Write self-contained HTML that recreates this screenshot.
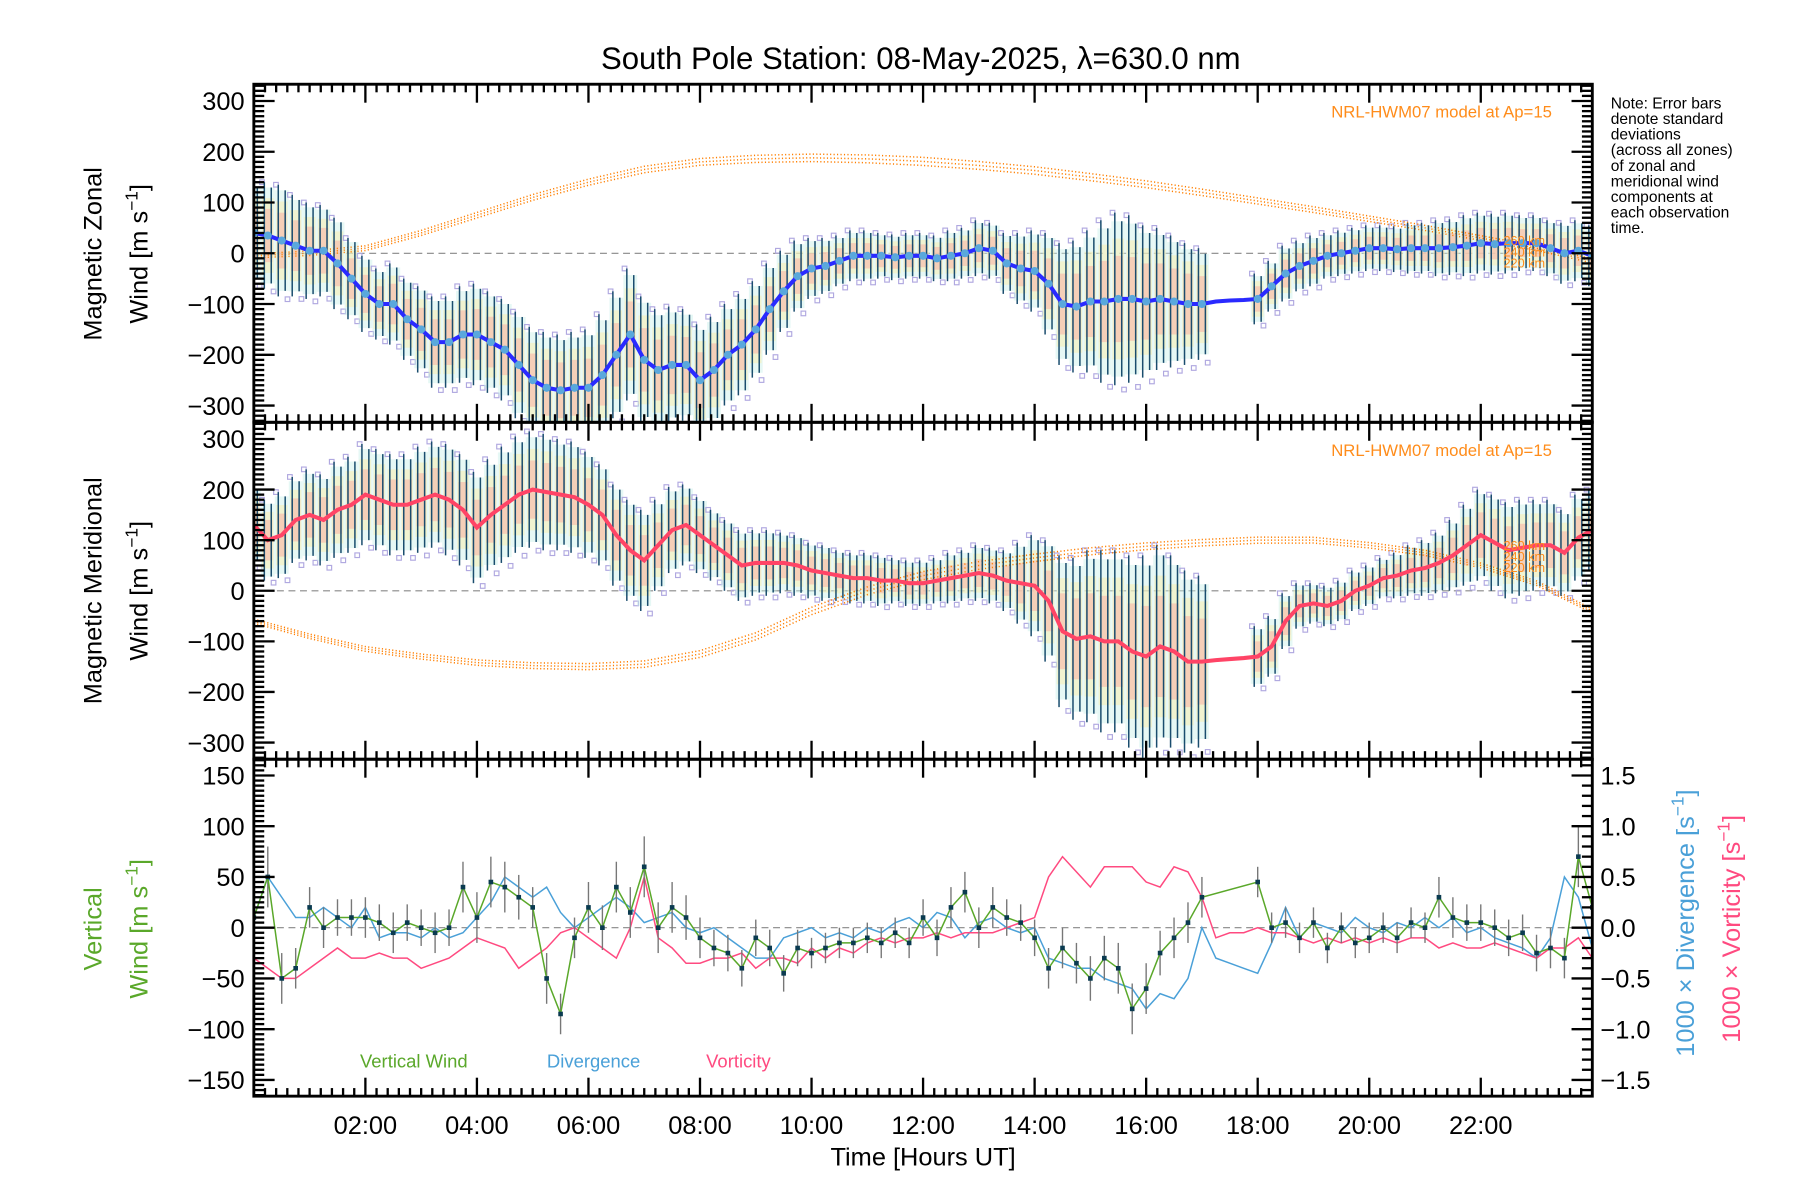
<!DOCTYPE html>
<html><head><meta charset="utf-8"><style>
html,body{margin:0;padding:0;background:#fff}
svg{display:block}
text{font-family:"Liberation Sans",sans-serif}
</style></head><body>
<svg id="chart" width="1800" height="1200" viewBox="0 0 1560 1040" xmlns="http://www.w3.org/2000/svg">
<text x="798" y="60" font-size="27" text-anchor="middle">South Pole Station: 08-May-2025, λ=630.0 nm</text>
<g font-size="13.5">
<text x="1396" y="94">Note: Error bars</text>
<text x="1396" y="107.5">denote standard</text>
<text x="1396" y="121">deviations</text>
<text x="1396" y="134.5">(across all zones)</text>
<text x="1396" y="148">of zonal and</text>
<text x="1396" y="161.5">meridional wind</text>
<text x="1396" y="175">components at</text>
<text x="1396" y="188.5">each observation</text>
<text x="1396" y="202">time.</text>
</g>
<g id="layer"></g>
</svg>
<script>
// ---- data (0.25 h steps, 0..24 h) ----
const hours = [2,4,6,8,10,12,14,16,18,20,22];
const hourLabels = ["02:00","04:00","06:00","08:00","10:00","12:00","14:00","16:00","18:00","20:00","22:00"];
const zonalMean = [40,35,25,15,5,5,-20,-50,-80,-100,-100,-130,-150,-175,-175,-160,-160,-175,-190,-220,-250,-265,-270,-265,-265,-240,-200,-160,-210,-230,-220,-220,-250,-230,-200,-180,-150,-110,-75,-45,-30,-25,-15,-5,-5,-5,-8,-5,-5,-10,-5,0,10,5,-20,-30,-35,-60,-100,-105,-95,-95,-90,-90,-95,-90,-95,-100,-100,-95,-93,-92,-90,-65,-40,-25,-15,-5,0,5,10,10,8,10,10,10,12,15,20,18,20,20,20,10,0,5,-5];
const zonalErr = [100,105,110,100,95,90,90,80,75,70,80,80,85,90,90,95,100,100,100,105,105,110,110,110,115,120,125,130,125,120,115,110,110,105,100,100,95,90,80,70,60,55,50,50,50,45,45,45,45,45,50,50,55,55,60,70,80,100,120,130,140,160,170,165,150,140,130,120,110,0,0,0,50,50,55,50,50,45,45,45,45,45,45,50,50,55,55,60,60,60,60,55,55,55,60,60,60];
const meridMean = [130,100,110,140,150,140,160,170,190,180,170,170,180,190,180,160,125,150,170,190,200,195,190,185,170,150,110,80,60,90,120,130,110,90,70,50,55,55,55,50,40,35,30,25,25,20,20,15,15,20,25,30,35,30,20,15,10,-20,-80,-95,-90,-100,-100,-120,-130,-110,-120,-140,-140,-137,-135,-133,-130,-110,-60,-30,-25,-30,-20,0,10,25,30,40,45,55,70,90,110,95,80,85,90,90,75,105,120];
const meridErr = [80,80,85,85,90,90,95,95,100,100,100,100,105,105,110,110,110,110,115,115,115,115,110,110,105,100,100,100,100,90,85,80,75,70,70,70,65,65,60,60,55,55,50,50,50,50,45,45,45,45,50,50,55,55,60,80,100,120,150,160,170,180,180,190,200,200,190,180,170,0,0,0,60,60,55,45,40,40,40,40,40,40,45,50,55,60,70,80,90,95,95,95,90,90,85,85,80];
const vertWind = [10,50,-50,-40,20,0,10,10,10,5,-5,5,0,-5,0,40,10,45,40,30,20,-50,-85,-10,20,0,40,15,60,0,20,10,-10,-20,-25,-40,-10,-20,-45,-20,-25,-20,-15,-15,-10,-15,-5,-15,10,-10,20,35,0,20,10,5,-10,-40,-20,-35,-50,-30,-40,-80,-60,-25,-10,5,30,null,null,null,45,0,5,-10,5,-20,0,-15,-10,0,-10,5,0,30,10,5,5,0,-10,-5,-25,-20,-30,70,20];
const vertErr = [25,30,25,20,20,20,18,18,20,18,20,18,18,20,18,25,25,25,25,22,20,25,20,20,25,22,25,25,30,25,25,22,20,18,18,18,18,18,18,18,15,15,15,15,15,15,15,15,18,18,20,20,20,20,18,18,18,20,20,20,22,22,25,25,25,22,20,20,20,0,0,0,15,15,15,15,15,15,15,15,15,15,15,15,15,20,20,18,18,18,18,18,18,20,20,30,25];
const divergence = [0.1,0.5,0.3,0.1,0.1,0.2,0.1,0,0.2,-0.1,-0.05,-0.05,-0.1,0,-0.1,-0.05,0.1,0.25,0.5,0.4,0.3,0.4,0.15,0,0.1,0.2,0.3,0.2,0.05,0.1,0.15,0,-0.05,0,-0.1,-0.2,-0.3,-0.3,-0.1,-0.05,0,-0.1,-0.05,-0.1,0,-0.05,0.05,0.1,0,0.15,0.1,-0.1,0.05,0.1,0,-0.05,0,-0.3,-0.35,-0.4,-0.4,-0.5,-0.55,-0.6,-0.8,-0.65,-0.7,-0.5,0,-0.3,-0.35,-0.4,-0.45,-0.15,0.2,-0.1,0.05,0,-0.05,0.1,0,-0.05,0.05,0,0.1,0,0.1,-0.05,0,-0.1,-0.15,-0.2,-0.3,-0.1,0.5,0.3,-0.2];
const vorticity = [-0.3,-0.4,-0.5,-0.5,-0.4,-0.3,-0.2,-0.3,-0.3,-0.25,-0.3,-0.3,-0.4,-0.35,-0.3,-0.2,-0.1,-0.15,-0.2,-0.4,-0.3,-0.2,-0.05,0,-0.1,-0.2,-0.3,0,0.5,-0.1,-0.2,-0.35,-0.35,-0.3,-0.3,-0.25,-0.4,-0.3,-0.3,-0.35,-0.2,-0.3,-0.2,-0.25,-0.15,-0.1,-0.15,-0.1,-0.1,-0.05,-0.1,-0.05,-0.05,-0.05,0,0.05,0.1,0.5,0.7,0.55,0.4,0.6,0.6,0.6,0.45,0.4,0.6,0.55,0.3,-0.1,-0.05,-0.05,0,-0.05,-0.05,-0.1,-0.15,-0.1,-0.15,-0.1,-0.15,-0.1,-0.15,-0.1,-0.1,-0.2,-0.15,-0.2,-0.2,-0.15,-0.2,-0.25,-0.3,-0.2,-0.2,-0.1,-0.3];
// model (hourly 0..24)
const zonalModel = [-5,0,10,40,75,110,140,165,180,186,188,186,181,173,163,150,136,120,103,86,68,50,30,10,-15];
const meridModel = [-60,-90,-115,-130,-142,-148,-150,-145,-125,-90,-40,0,30,50,65,78,88,95,100,100,90,75,50,15,-40];
const modelOffsets = [-8,0,8];
const leftTicks12 = [-300,-200,-100,0,100,200,300];
const leftTicks3 = [-150,-100,-50,0,50,100,150];
const rightTicks3 = [-1.5,-1.0,-0.5,0.0,0.5,1.0,1.5];

const NS="http://www.w3.org/2000/svg";
const layer=document.getElementById('layer');
const X0=220,X1=1380;
const xs=h=>X0+(X1-X0)*h/24;
const P=[{t:73,b:366,min:-333,max:333},{t:366,b:658,min:-333,max:333},{t:658,b:950,min:-166,max:166}];
const ys=(p,v)=>p.b-(v-p.min)/(p.max-p.min)*(p.b-p.t);
const yr=v=>P[2].b-(v+1.66)/3.32*(P[2].b-P[2].t);
function mk(tag,attrs,parent){const e=document.createElementNS(NS,tag);for(const k in attrs)e.setAttribute(k,attrs[k]);(parent||layer).appendChild(e);return e;}
function T(i){return i*0.25;}

function windPanel(pi,mean,err,lineColor,dotColor,model,name){
  const p=P[pi];
  const g=mk('g',{});
  
  
  const clip=mk('clipPath',{id:'c'+pi},g);mk('rect',{x:X0,y:p.t,width:X1-X0,height:p.b-p.t},clip);
  const inner=mk('g',{'clip-path':'url(#c'+pi+')'},g);
  mk('line',{x1:X0,x2:X1,y1:ys(p,0),y2:ys(p,0),stroke:'#888','stroke-dasharray':'6,4','stroke-width':1},inner);
  mean.forEach((m,i)=>{const e=err[i];if(!e)return;const x=xs(T(i));
    const b1=mk('rect',{x:x-6,y:ys(p,m+e*0.9),width:12,height:ys(p,m-e*0.9)-ys(p,m+e*0.9),fill:'#c8f0e8',opacity:0.45},inner);
    
    mk('rect',{x:x-5,y:ys(p,m+e*0.7),width:10,height:ys(p,m-e*0.7)-ys(p,m+e*0.7),fill:'#f8eeb0',opacity:0.55},inner);
    mk('rect',{x:x-4,y:ys(p,m+e*0.5),width:8,height:ys(p,m-e*0.5)-ys(p,m+e*0.5),fill:'#f8b8a8',opacity:0.6},inner);
    mk('rect',{x:x+3,y:ys(p,m-e*1.05)-2,width:4,height:4,fill:'none',stroke:'#b0a8e0','stroke-width':1},inner);
    mk('rect',{x:x-7,y:ys(p,m+e*1.0)-2,width:4,height:4,fill:'none',stroke:'#b0a8e0','stroke-width':1},inner);
  });
  modelOffsets.forEach(o=>{const pts=model.map((v,i)=>xs(i)+','+ys(p,v+o*(1-Math.abs(i-12)/24))).join(' ');
    const l=mk('polyline',{points:pts,fill:'none',stroke:'#ff7f00','stroke-width':1.3,'stroke-dasharray':'1,2'},inner);
    });
  mean.forEach((m,i)=>{const e=err[i];if(!e)return;const x=xs(T(i));
    for(const dx of [-3,3]){const l=mk('line',{x1:x+dx,x2:x+dx,y1:ys(p,m+e*(dx<0?1:0.9)),y2:ys(p,m-e*(dx<0?1:0.9)),stroke:'#1a4d6e','stroke-width':1.3},inner);
    }
  });
  const pts=mean.map((m,i)=>xs(T(i))+','+ys(p,m)).join(' ');
  const ln=mk('polyline',{points:pts,fill:'none',stroke:lineColor,'stroke-width':3.5},inner);
  
  if(dotColor) mean.forEach((m,i)=>{if(!err[i])return;const c=mk('circle',{cx:xs(T(i)),cy:ys(p,m),r:3.5,fill:dotColor},inner);
    });
  const t=mk('text',{x:1345,y:p.t+29,'font-size':14.5,fill:'#ff8c1a','text-anchor':'end'},g);t.textContent='NRL-HWM07 model at Ap=15';
  
  ['260 km','240 km','220 km'].forEach((s,k)=>{const tt=mk('text',{x:1303,y:ys(p,(pi==0?25:90)-k*22)+4,'font-size':11,fill:'#ff8c1a'},inner);tt.textContent=s;});
  leftTicks12.forEach(v=>{const tl=mk('text',{x:212,y:ys(p,v)+8,'font-size':22,'text-anchor':'end'},g);tl.textContent=v<0?'\u2212'+(-v):String(v);
    });
  for(let v=-330;v<=330;v+=10){const big=v%100===0;const y=ys(p,v);
    mk('line',{x1:X0,x2:X0+(big?18:9),y1:y,y2:y,stroke:'#000','stroke-width':2},g);
    mk('line',{x1:X1,x2:X1-(big?18:9),y1:y,y2:y,stroke:'#000','stroke-width':2},g);}
  xticks(g,p);
  mk('rect',{x:X0,y:p.t,width:X1-X0,height:p.b-p.t,fill:'none',stroke:'#000','stroke-width':2.5},g);
}
function xticks(g,p){for(let m=0;m<=1440;m+=12){const x=xs(m/60);const big=m%120===0;
  mk('line',{x1:x,x2:x,y1:p.b,y2:p.b-(big?16:7),stroke:'#000','stroke-width':2},g);
  mk('line',{x1:x,x2:x,y1:p.t,y2:p.t+(big?16:7),stroke:'#000','stroke-width':2},g);}}

windPanel(0,zonalMean,zonalErr,'#2a2aff','#5aa8dc',zonalModel,'zonal');
windPanel(1,meridMean,meridErr,'#ff4466',null,meridModel,'meridional');

(function(){
  const p=P[2];const g=mk('g',{});
  
  const clip=mk('clipPath',{id:'c2'},g);mk('rect',{x:X0,y:p.t,width:X1-X0,height:p.b-p.t},clip);
  const inner=mk('g',{'clip-path':'url(#c2)'},g);
  mk('line',{x1:X0,x2:X1,y1:ys(p,0),y2:ys(p,0),stroke:'#888','stroke-dasharray':'6,4','stroke-width':1},inner);
  const dl=mk('polyline',{points:divergence.map((v,i)=>xs(T(i))+','+yr(v)).join(' '),fill:'none',stroke:'#4aa0d8','stroke-width':1.3},inner);
  
  const vl=mk('polyline',{points:vorticity.map((v,i)=>xs(T(i))+','+yr(v)).join(' '),fill:'none',stroke:'#ff4a80','stroke-width':1.3},inner);
  
  vertWind.forEach((v,i)=>{if(v===null)return;const x=xs(T(i));
    const l=mk('line',{x1:x,x2:x,y1:ys(p,v+vertErr[i]),y2:ys(p,v-vertErr[i]),stroke:'#777','stroke-width':1.2},inner);
    });
  const pts=[];vertWind.forEach((v,i)=>{if(v!==null)pts.push(xs(T(i))+','+ys(p,v));});
  const wl=mk('polyline',{points:pts.join(' '),fill:'none',stroke:'#5aa82a','stroke-width':1.3},inner);
  
  vertWind.forEach((v,i)=>{if(v===null)return;const c=mk('rect',{x:xs(T(i))-2,y:ys(p,v)-2,width:4,height:4,fill:'#0a3a50'},inner);
    });
  leftTicks3.forEach(v=>{const tl=mk('text',{x:212,y:ys(p,v)+8,'font-size':22,'text-anchor':'end'},g);tl.textContent=v<0?'\u2212'+(-v):String(v);
    });
  rightTicks3.forEach(v=>{const tl=mk('text',{x:1387,y:yr(v)+8,'font-size':22},g);tl.textContent=(v<0?'\u2212':'')+Math.abs(v).toFixed(1);
    });
  for(let v=-165;v<=165;v+=5){const y=ys(p,v);const big=v%50===0;mk('line',{x1:X0,x2:X0+(big?18:9),y1:y,y2:y,stroke:'#000','stroke-width':2},g);}
  for(let k=-16;k<=16;k++){const v=k/10;const y=yr(v);const big=k%5===0;mk('line',{x1:X1,x2:X1-(big?18:9),y1:y,y2:y,stroke:'#000','stroke-width':2},g);}
  xticks(g,p);
  mk('rect',{x:X0,y:p.t,width:X1-X0,height:p.b-p.t,fill:'none',stroke:'#000','stroke-width':2.5},g);
  [['Vertical Wind',312,'#5aa82a','legend-vertical-wind'],['Divergence',474,'#4aa0d8','legend-divergence'],['Vorticity',612,'#ff4a80','legend-vorticity']].forEach(a=>{
    const t=mk('text',{x:a[1],y:925,'font-size':16,fill:a[2]},g);t.textContent=a[0];
    });
})();

hours.forEach((h,i)=>{const t=mk('text',{x:xs(h),y:983,'font-size':22,'text-anchor':'middle'});t.textContent=hourLabels[i];
  });
const xt=mk('text',{x:800,y:1010,'font-size':22,'text-anchor':'middle'});xt.textContent='Time [Hours UT]';


function vlabel(x,cy,html,color,name){const t=mk('text',{x:0,y:0,'font-size':22,'text-anchor':'middle',fill:color,transform:'translate('+x+','+cy+') rotate(-90)'});
  t.innerHTML=html;}
const SUP='<tspan dy="-9" font-size="15">−1</tspan><tspan dy="9">]</tspan>';
vlabel(88,220,'Magnetic Zonal','#000','zonal-axis-title');
vlabel(128,220,'Wind [m s'+SUP,'#000','zonal-axis-units');
vlabel(88,512,'Magnetic Meridional','#000','meridional-axis-title');
vlabel(128,512,'Wind [m s'+SUP,'#000','meridional-axis-units');
vlabel(88,805,'Vertical','#5aa82a','vertical-axis-title');
vlabel(128,805,'Wind [m s'+SUP,'#5aa82a','vertical-axis-units');
vlabel(1468,800,'1000 × Divergence [s'+SUP,'#4aa0d8','divergence-axis-title');
vlabel(1508,805,'1000 × Vorticity [s'+SUP,'#ff4a80','vorticity-axis-title');
</script>
</body></html>
